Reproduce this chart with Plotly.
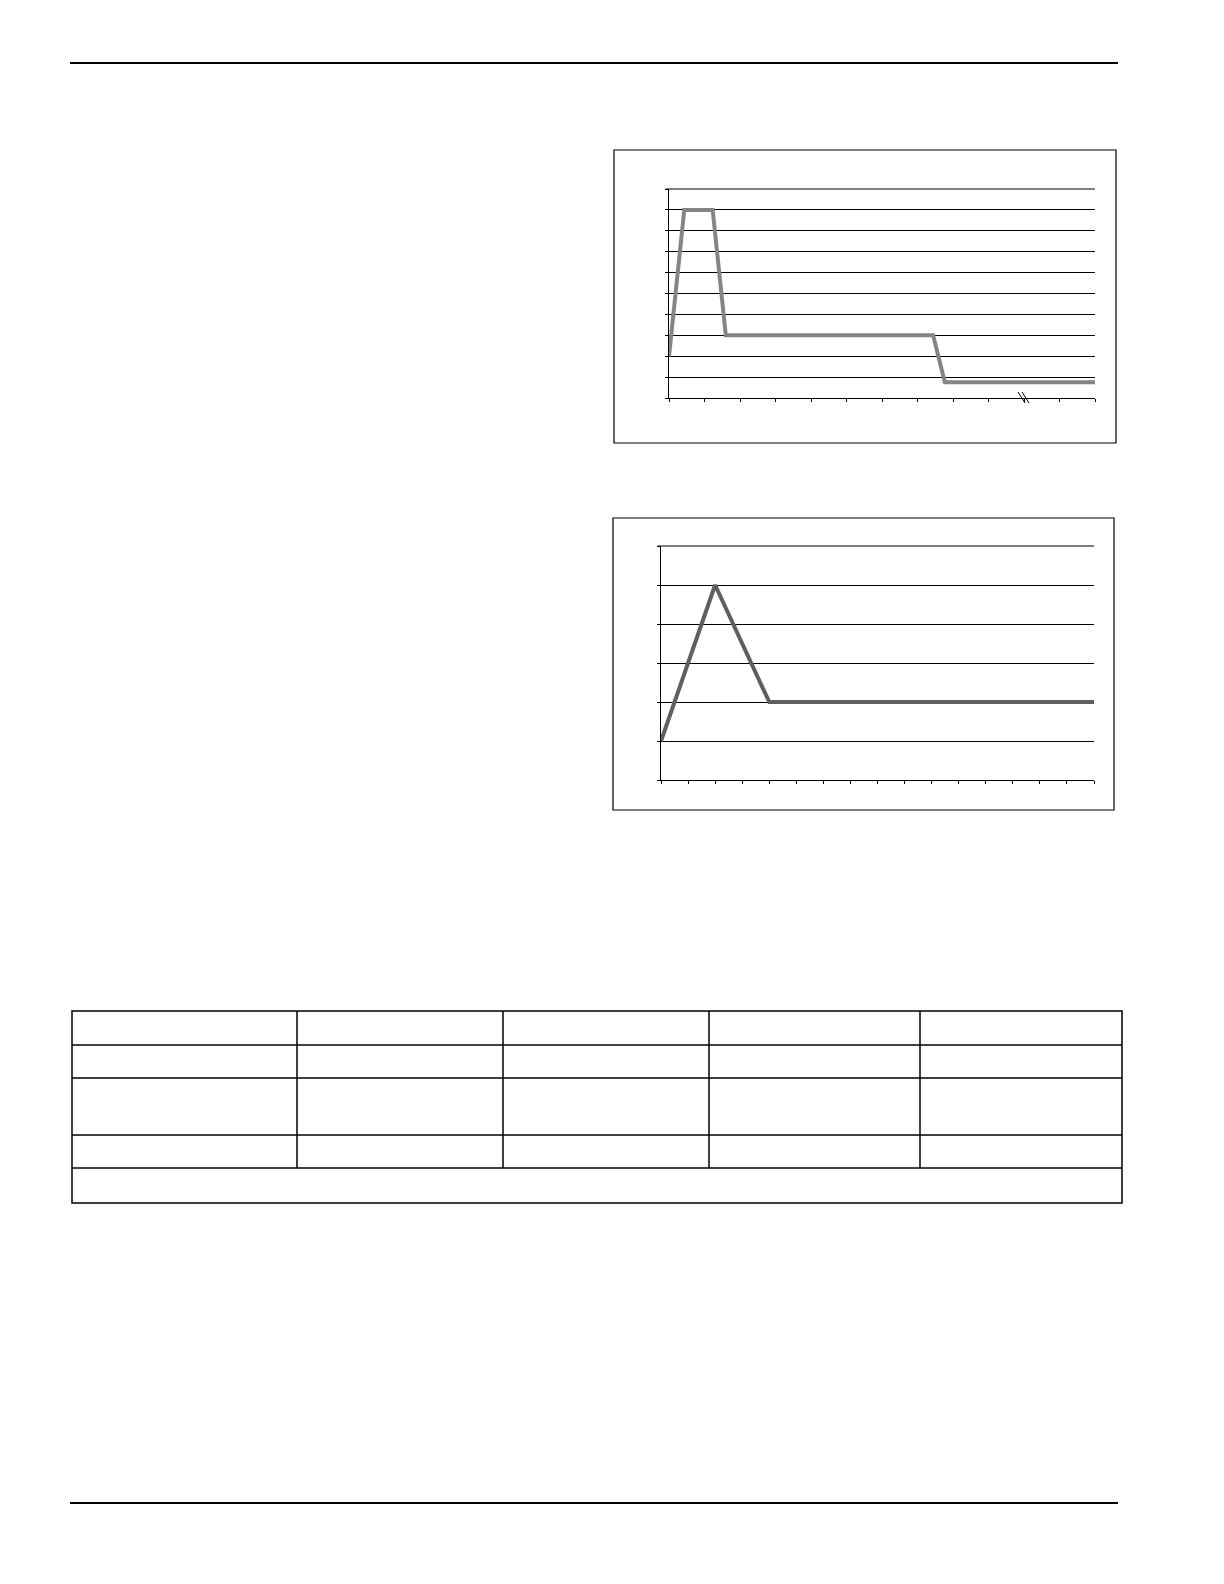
import plotly.graph_objects as go

### page size in px (the reference is a scanned page, no text on it)
W, H = 1224, 1584

### chart 1 : trapezoid profile, then two plateaus
c1_x = [0, 0.43, 1.23, 1.6, 7.44, 7.77, 12]
c1_y = [2, 9, 9, 3, 3, 0.75, 0.75]
c1_xmax, c1_ymax = 12, 10

### chart 2 : triangle peak, then plateau
c2_x = [0, 2, 4, 16]
c2_y = [1, 5, 2, 2]
c2_xmax, c2_ymax = 16, 6

### table grid (empty table, last row spans all columns)
table_cols = [289, 495, 701, 912]
table_rows = [1037, 1070, 1127, 1160]


def px_x(v):
    return v / W


def px_y(v):
    return 1 - v / H


### plot areas in page px (left, top, right, bottom)
box1 = (661, 181, 1087, 390)
box2 = (653, 538, 1086, 772)

fig = go.Figure()

fig.add_trace(go.Scatter(x=c1_x, y=c1_y, mode="lines",
                         line=dict(color="#858585", width=4),
                         xaxis="x", yaxis="y", showlegend=False))
fig.add_trace(go.Scatter(x=c2_x, y=c2_y, mode="lines",
                         line=dict(color="#5f5f5f", width=4),
                         xaxis="x2", yaxis="y2", showlegend=False))

axis_common = dict(showticklabels=False, ticks="outside", ticklen=3,
                   tickcolor="black", showline=True, linecolor="black",
                   linewidth=1, zeroline=False, fixedrange=True)

fig.update_layout(
    width=W, height=H,
    margin=dict(l=0, r=0, t=0, b=0),
    paper_bgcolor="white", plot_bgcolor="white",
    xaxis=dict(domain=[px_x(box1[0]), px_x(box1[2])], range=[0, c1_xmax], dtick=1,
               showgrid=False, anchor="y", **axis_common),
    yaxis=dict(domain=[px_y(box1[3]), px_y(box1[1])], range=[0, c1_ymax], dtick=1,
               showgrid=True, gridcolor="black", gridwidth=1, anchor="x",
               **axis_common),
    xaxis2=dict(domain=[px_x(box2[0]), px_x(box2[2])], range=[0, c2_xmax], dtick=1,
                showgrid=False, anchor="y2", **axis_common),
    yaxis2=dict(domain=[px_y(box2[3]), px_y(box2[1])], range=[0, c2_ymax], dtick=1,
                showgrid=True, gridcolor="black", gridwidth=1, anchor="x2",
                **axis_common),
)

shapes = []

### top gridline of each chart (plotly skips the one on the range edge)
for (l, t, r, b) in (box1, box2):
    shapes.append(dict(type="line", xref="paper", yref="paper",
                       x0=px_x(l - 3), x1=px_x(r), y0=px_y(t), y1=px_y(t),
                       line=dict(color="black", width=1)))

### page header / footer rules
for yy in (55, 1495):
    shapes.append(dict(type="line", xref="paper", yref="paper",
                       x0=px_x(62), x1=px_x(1110), y0=px_y(yy), y1=px_y(yy),
                       line=dict(color="black", width=2)))

### chart frames
for (l, t, r, b) in [(606, 142, 1108, 435), (605, 510, 1106, 802)]:
    shapes.append(dict(type="rect", xref="paper", yref="paper",
                       x0=px_x(l), x1=px_x(r), y0=px_y(b), y1=px_y(t),
                       line=dict(color="black", width=1.2)))

### axis break mark "//" on chart 1
for dx in (0, 4):
    shapes.append(dict(type="line", xref="paper", yref="paper",
                       x0=px_x(1010 + dx), x1=px_x(1017 + dx),
                       y0=px_y(384), y1=px_y(395),
                       line=dict(color="black", width=1)))

### table
t_left, t_right, t_top, t_bot = 64, 1114, 1003, 1195
shapes.append(dict(type="rect", xref="paper", yref="paper",
                   x0=px_x(t_left), x1=px_x(t_right), y0=px_y(t_bot), y1=px_y(t_top),
                   line=dict(color="black", width=1.5)))
for yy in table_rows:
    shapes.append(dict(type="line", xref="paper", yref="paper",
                       x0=px_x(t_left), x1=px_x(t_right), y0=px_y(yy), y1=px_y(yy),
                       line=dict(color="black", width=1.5)))
for xx in table_cols:
    shapes.append(dict(type="line", xref="paper", yref="paper",
                       x0=px_x(xx), x1=px_x(xx), y0=px_y(t_top), y1=px_y(table_rows[-1]),
                       line=dict(color="black", width=1.5)))

fig.update_layout(shapes=shapes)

fig.write_html("out.html")
